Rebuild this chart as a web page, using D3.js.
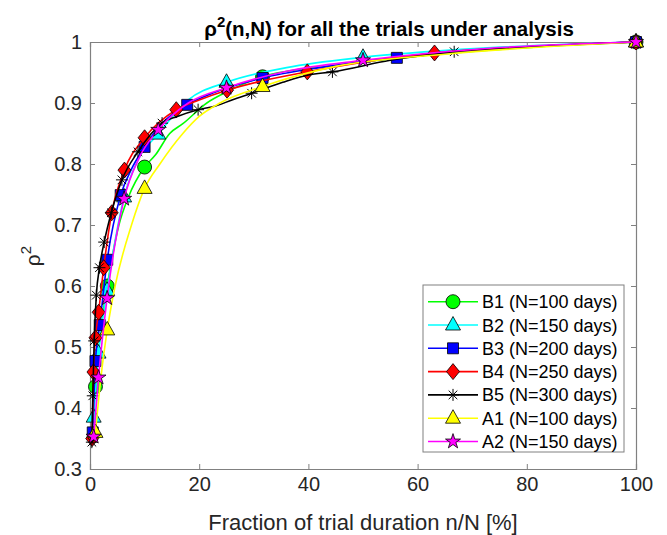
<!DOCTYPE html>
<html lang="en">
<head>
<meta charset="UTF-8">
<title>rho2 trials</title>
<script src="https://d3js.org/d3.v7.min.js"></script>
<style>
  body { margin: 0; background: #fff; }
  svg { font-family: "Liberation Sans", Arial, Helvetica, sans-serif; }
</style>
</head>
<body>
<svg id="chart" width="667" height="535"></svg>
<script>
// marker points (x = n/N in %, y = rho^2) and extra points on each line
const b1Mx = [1, 3.16, 10, 31.6, 100];
const b1My = [0.435, 0.600, 0.795, 0.943, 1.0];
const b1Lx = [2, 5.3, 7, 12, 14.6, 17, 21.4, 25, 45, 65, 82];
const b1Ly = [0.53, 0.70, 0.745, 0.815, 0.85, 0.866, 0.90, 0.918, 0.962, 0.981, 0.992];

const b2Mx = [0.67, 1.56, 3.13, 6.25, 12.5, 25, 50, 100];
const b2My = [0.385, 0.49, 0.593, 0.746, 0.849, 0.934, 0.975, 1.0];
const b2Lx = [9, 18, 36, 72];
const b2Ly = [0.81, 0.905, 0.958, 0.99];

const b3Mx = [0.5, 1.0, 1.78, 3.16, 5.62, 10, 17.8, 31.6, 56.2, 100];
const b3My = [0.36, 0.477, 0.536, 0.643, 0.749, 0.828, 0.897, 0.941, 0.974, 1.0];
const b3Lx = [7.5, 13, 23, 42, 76];
const b3Ly = [0.79, 0.865, 0.918, 0.958, 0.99];

const b4Mx = [0.4, 0.63, 1.0, 1.58, 2.51, 3.98, 6.31, 10, 15.8, 25.1, 39.8, 63.1, 100];
const b4My = [0.35, 0.459, 0.515, 0.557, 0.63, 0.72, 0.79, 0.843, 0.889, 0.921, 0.951, 0.982, 1.0];
const b4Lx = [20, 31, 50, 80];
const b4Ly = [0.905, 0.935, 0.967, 0.992];

const b5Mx = [0.34, 0.51, 0.77, 1.16, 1.73, 2.6, 3.9, 5.85, 8.78, 13.2, 19.8, 29.6, 44.4, 66.7, 100];
const b5My = [0.344, 0.42, 0.51, 0.585, 0.63, 0.672, 0.72, 0.774, 0.82, 0.867, 0.889, 0.916, 0.951, 0.984, 1.0];
const b5Lx = [16, 23, 26, 35.3, 40, 55, 82];
const b5Ly = [0.878, 0.895, 0.905, 0.934, 0.946, 0.97, 0.993];

const a1Mx = [1, 3.16, 10, 31.6, 100];
const a1My = [0.36, 0.528, 0.76, 0.927, 1.0];
const a1Lx = [2, 4.6, 7.6, 12.8, 17, 20, 23.8, 45, 65, 85];
const a1Ly = [0.45, 0.60, 0.70, 0.80, 0.85, 0.878, 0.90, 0.96, 0.98, 0.993];

const a2Mx = [0.67, 1.56, 3.13, 6.25, 12.5, 25, 50, 100];
const a2My = [0.353, 0.45, 0.58, 0.743, 0.856, 0.925, 0.97, 1.0];
const a2Lx = [9, 18, 36, 72];
const a2Ly = [0.81, 0.9, 0.952, 0.989];

const names = ["B1 (N=100 days)", "B2 (N=150 days)", "B3 (N=200 days)", "B4 (N=250 days)",
               "B5 (N=300 days)", "A1 (N=100 days)", "A2 (N=150 days)"];
const colors = ["#00ff00", "#00ffff", "#0000ff", "#ff0000", "#000000", "#ffff00", "#ff00ff"];
const shapes = ["circle", "triangle", "square", "diamond", "asterisk", "triangle", "star"];

const xTicks = [0, 20, 40, 60, 80, 100];
const yTicks = [0.3, 0.4, 0.5, 0.6, 0.7, 0.8, 0.9, 1];

const series = [
  [b1Mx, b1My, b1Lx, b1Ly], [b2Mx, b2My, b2Lx, b2Ly], [b3Mx, b3My, b3Lx, b3Ly],
  [b4Mx, b4My, b4Lx, b4Ly], [b5Mx, b5My, b5Lx, b5Ly], [a1Mx, a1My, a1Lx, a1Ly],
  [a2Mx, a2My, a2Lx, a2Ly]
].map((s, i) => {
  const marks = s[0].map((x, j) => ({x: x, y: s[1][j]}));
  const extra = s[2].map((x, j) => ({x: x, y: s[3][j]}));
  const line = marks.concat(extra).sort((a, b) => a.x - b.x);
  return {name: names[i], color: colors[i], shape: shapes[i], marks: marks, line: line};
});

const svg = d3.select("#chart");
const margin = {left: 90, right: 31, top: 42, bottom: 66};
const W = 667, H = 535;

const x = d3.scaleLinear().domain([0, 100]).range([margin.left, W - margin.right]);
const y = d3.scaleLinear().domain([0.3, 1]).range([H - margin.bottom, margin.top]);

const axisCol = "#808080";
const textCol = "#262626";

// marker paths
function markerPath(shape) {
  switch (shape) {
    case "circle": return "M7,0A7,7 0 1,1 -7,0A7,7 0 1,1 7,0Z";
    case "triangle": return "M0,-8.5L7.5,5L-7.5,5Z";
    case "square": return "M-5.5,-5.5L5.5,-5.5L5.5,5.5L-5.5,5.5Z";
    case "diamond": return "M0,-8L6.5,0L0,8L-6.5,0Z";
    case "asterisk": return "M-6,0L6,0M0,-6L0,6M-4.3,-4.3L4.3,4.3M-4.3,4.3L4.3,-4.3";
    case "star": return d3.symbol(d3.symbolStar, 70)();
  }
}

// axes box
const g = svg.append("g");
g.append("rect")
  .attr("x", x(0)).attr("y", y(1))
  .attr("width", x(100) - x(0)).attr("height", y(0.3) - y(1))
  .attr("fill", "#fff");

const xAxis = d3.axisBottom(x).tickValues(xTicks).tickSize(-5).tickPadding(8).tickFormat(d3.format("d"));
const xAxisTop = d3.axisTop(x).tickValues(xTicks).tickSize(-5).tickFormat("");
const yAxis = d3.axisLeft(y).tickValues(yTicks).tickSize(-5).tickPadding(8).tickFormat(d => d === 1 ? "1" : d3.format(".1f")(d));
const yAxisRight = d3.axisRight(y).tickValues(yTicks).tickSize(-5).tickFormat("");

function styleAxis(sel) {
  sel.select(".domain").attr("stroke", axisCol).attr("stroke-width", 1.2);
  sel.selectAll(".tick line").attr("stroke", axisCol).attr("stroke-width", 1);
  sel.selectAll(".tick text").attr("fill", textCol).attr("font-size", 20)
    .attr("font-family", "'Liberation Sans', Arial, sans-serif");
}

g.append("g").attr("transform", `translate(0,${y(0.3)})`).call(xAxis).call(styleAxis);
g.append("g").attr("transform", `translate(0,${y(1)})`).call(xAxisTop).call(styleAxis);
g.append("g").attr("transform", `translate(${x(0)},0)`).call(yAxis).call(styleAxis);
g.append("g").attr("transform", `translate(${x(100)},0)`).call(yAxisRight).call(styleAxis);

// lines and markers
const lineGen = d3.line().x(d => x(d.x)).y(d => y(d.y)).curve(d3.curveMonotoneX);

series.forEach(s => {
  svg.append("path")
    .datum(s.line)
    .attr("d", lineGen)
    .attr("fill", "none")
    .attr("stroke", s.color)
    .attr("stroke-width", 1.6);

  svg.append("g").selectAll("path")
    .data(s.marks)
    .join("path")
    .attr("transform", d => `translate(${x(d.x)},${y(d.y)})`)
    .attr("d", markerPath(s.shape))
    .attr("fill", s.shape === "asterisk" ? "none" : s.color)
    .attr("stroke", "#000")
    .attr("stroke-width", s.shape === "asterisk" ? 1 : 0.8);
});

// title
const title = svg.append("text")
  .attr("x", 389).attr("y", 36)
  .attr("text-anchor", "middle")
  .attr("font-size", 20.5).attr("font-weight", "bold").attr("fill", "#000");
title.append("tspan").text("\u03C1");
title.append("tspan").attr("dy", -9).attr("font-size", 15).text("2");
title.append("tspan").attr("dy", 9).text("(n,N) for all the trials under analysis");

// axis labels
svg.append("text")
  .attr("x", 363).attr("y", 530)
  .attr("text-anchor", "middle")
  .attr("font-size", 22).attr("fill", textCol)
  .text("Fraction of trial duration n/N [%]");

const yl = svg.append("text")
  .attr("transform", "translate(40,256) rotate(-90)")
  .attr("text-anchor", "middle")
  .attr("font-size", 21).attr("fill", textCol);
yl.append("tspan").text("\u03C1");
yl.append("tspan").attr("dy", -9).attr("font-size", 15).text("2");

// legend
const lg = svg.append("g");
const lgX = 423, lgY = 285, lgW = 201, lgH = 167, rowH = 23.3, firstRow = 301.7;
lg.append("rect").attr("x", lgX).attr("y", lgY).attr("width", lgW).attr("height", lgH)
  .attr("fill", "#fff").attr("stroke", axisCol).attr("stroke-width", 1);

series.forEach((s, i) => {
  const cy = firstRow + i * rowH;
  lg.append("line").attr("x1", 428).attr("x2", 478).attr("y1", cy).attr("y2", cy)
    .attr("stroke", s.color).attr("stroke-width", 1.6);
  lg.append("path").attr("transform", `translate(453,${cy})`)
    .attr("d", markerPath(s.shape))
    .attr("fill", s.shape === "asterisk" ? "none" : s.color)
    .attr("stroke", "#000")
    .attr("stroke-width", s.shape === "asterisk" ? 1 : 0.8);
  lg.append("text").attr("x", 482).attr("y", cy + 6.5)
    .attr("font-size", 18).attr("fill", "#000")
    .text(s.name);
});
</script>
</body>
</html>
